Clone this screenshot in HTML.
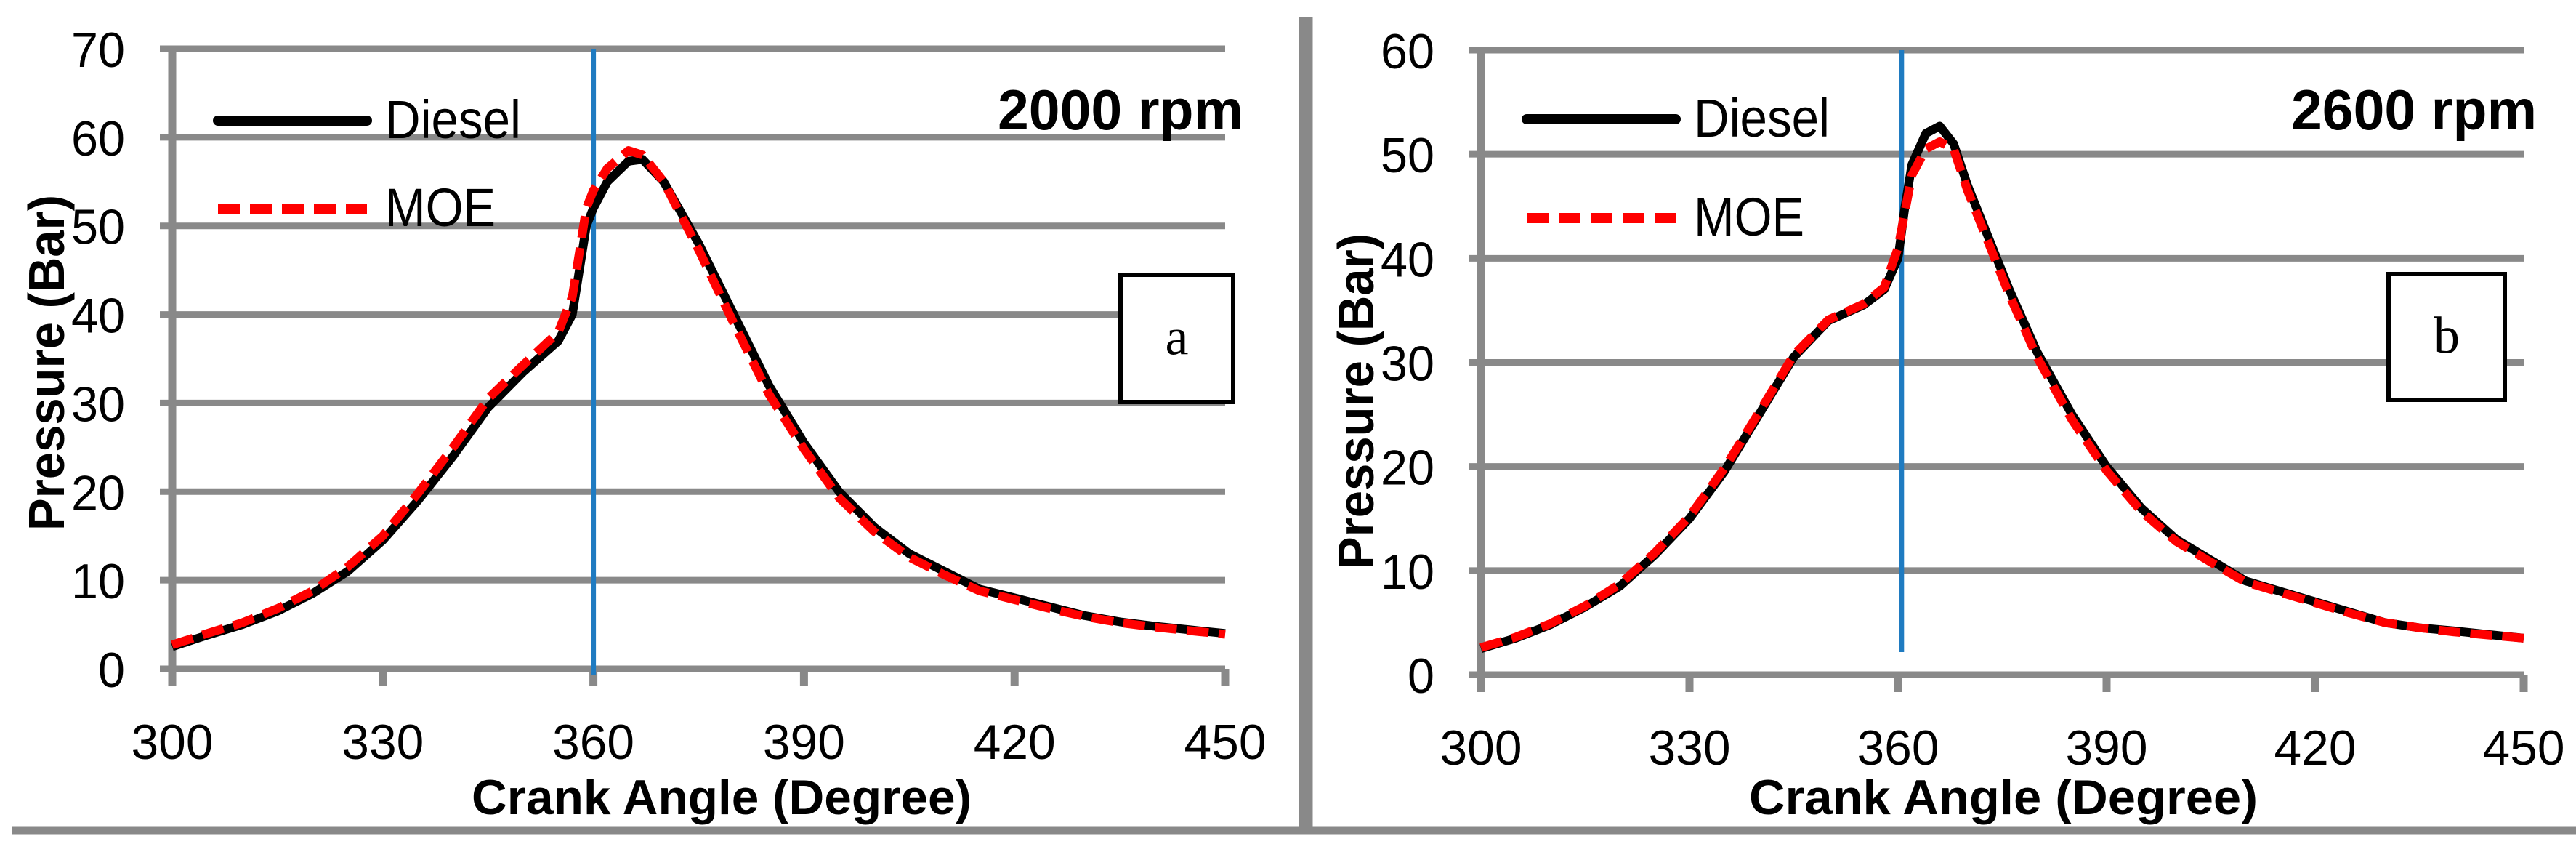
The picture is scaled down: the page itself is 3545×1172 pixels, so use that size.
<!DOCTYPE html>
<html><head><meta charset="utf-8"><style>
html,body{margin:0;padding:0;background:#fff}
svg{display:block}
text{font-family:"Liberation Sans Narrow","Liberation Sans",sans-serif}
</style></head><body>
<svg id="fig" width="3545" height="1172" viewBox="0 0 3545 1172" xmlns="http://www.w3.org/2000/svg">
<rect x="0" y="0" width="3545" height="1172" fill="#fff"/>
<line x1="17" y1="1142" x2="3545" y2="1142" stroke="#898989" stroke-width="11"/>
<line x1="1797" y1="23" x2="1797" y2="1147" stroke="#898989" stroke-width="19"/>
<g id="pa"></g>
<g id="pb"></g>
</svg>
<script>
const xTicks = [300, 330, 360, 390, 420, 450];
const yTicksA = [0, 10, 20, 30, 40, 50, 60, 70];
const yTicksB = [0, 10, 20, 30, 40, 50, 60];
const anglesA = [300,305,310,315,320,325,330,335,340,345,350,355,357,358,359,360,362,365,367,370,375,380,385,390,395,400,405,410,415,420,425,430,435,440,445,450];
const dieselA = [2.5,3.8,5,6.5,8.5,11,14.5,19,24,29.5,33.5,37,40,45,50,52,55,57.3,57.5,55,48,40,32,25.5,20,16,13,11,9,8,7,6,5.3,4.8,4.4,4];
const moeA    = [2.7,4,5.2,6.8,8.8,11.5,15,19.8,25,30.5,34.3,38,42,47,52,54,56.5,58.5,58,55,47.3,39,31,24.8,19.3,15.5,12.6,10.6,8.8,7.8,6.8,5.9,5.2,4.7,4.3,3.9];
const anglesB = [300,305,310,315,320,325,330,335,340,345,350,355,358,360,361,362,364,366,368,370,373,376,380,385,390,395,400,405,410,415,420,425,430,435,440,450];
const dieselB = [2.5,3.5,4.8,6.5,8.5,11.5,15,19.5,25,30.5,34,35.5,37,40,45,49,52,52.7,51,47,42,37,31,25,20,16,13,11,9,8,7,6,5,4.5,4.2,3.5];
const moeB    = [2.6,3.6,4.9,6.6,8.7,11.7,15.2,19.8,25.2,30.7,34.1,35.6,37.2,41,44.5,48,50.5,51.2,50.5,46.5,41.5,36.5,30.5,24.5,19.6,15.7,12.8,10.8,8.9,7.9,6.9,5.9,5,4.5,4.1,3.5];
const NS = "http://www.w3.org/2000/svg";
function mk(parent, tag, attrs, text){
  const el = document.createElementNS(NS, tag);
  for (const k in attrs) el.setAttribute(k, attrs[k]);
  if (text !== undefined) el.textContent = text;
  parent.appendChild(el);
  return el;
}
function numLen(s){ return s.length * 37; }
function panel(g, cfg){
  const sx = v => cfg.x0 + (v - 300) * (cfg.x1 - cfg.x0) / 150;
  const sy = v => cfg.y0 - v * (cfg.y0 - cfg.yTop) / cfg.ymax;
  cfg.yt.forEach(t => {
    const l = mk(g, 'line', {x1: cfg.x0 - 17, x2: cfg.x1, y1: sy(t), y2: sy(t), stroke: '#898989', 'stroke-width': 9});
    
    
    const tx = mk(g, 'text', {x: cfg.ylx, y: sy(t) + 25, 'font-size': 68, 'text-anchor': 'end', textLength: numLen(String(t)), lengthAdjust: 'spacingAndGlyphs'}, String(t));
    
    
  });
  const ax = mk(g, 'line', {x1: cfg.x0, x2: cfg.x0, y1: sy(cfg.ymax) - 4, y2: cfg.y0 + 24, stroke: '#898989', 'stroke-width': 11});
  
  
  xTicks.forEach(t => {
    const l = mk(g, 'line', {x1: sx(t), x2: sx(t), y1: cfg.y0, y2: cfg.y0 + 24, stroke: '#898989', 'stroke-width': 11});
    
    
    const tx = mk(g, 'text', {x: sx(t), y: cfg.xly, 'font-size': 68, 'text-anchor': 'middle', textLength: 113, lengthAdjust: 'spacingAndGlyphs'}, String(t));
    
    
  });
  const blue = mk(g, 'line', {x1: sx(cfg.tdc), x2: sx(cfg.tdc), y1: sy(cfg.ymax), y2: cfg.blueEnd, stroke: '#1f7bc1', 'stroke-width': 7});
  
  
  const d = (xs, ys) => xs.map((a, i) => (i ? 'L' : 'M') + sx(a).toFixed(1) + ' ' + sy(ys[i]).toFixed(1)).join(' ');
  const p1 = mk(g, 'path', {d: d(cfg.ang, cfg.dsl), fill: 'none', stroke: '#000', 'stroke-width': 12, 'stroke-linejoin': 'round'});
  
  
  const p2 = mk(g, 'path', {d: d(cfg.ang, cfg.moe), fill: 'none', stroke: '#ff0000', 'stroke-width': 12, 'stroke-dasharray': '30 14', 'stroke-linejoin': 'round'});
  
  
  const l1 = mk(g, 'line', {x1: cfg.lgx, x2: cfg.lgx + 205, y1: cfg.lgy1, y2: cfg.lgy1, stroke: '#000', 'stroke-width': 14, 'stroke-linecap': 'round'});
  
  
  const t1 = mk(g, 'text', {x: cfg.lgx + 230, y: cfg.lgy1 + 24, 'font-size': 74, textLength: 187, lengthAdjust: 'spacingAndGlyphs'}, 'Diesel');
  
  
  const l2 = mk(g, 'line', {x1: cfg.lgx, x2: cfg.lgx + 205, y1: cfg.lgy2, y2: cfg.lgy2, stroke: '#ff0000', 'stroke-width': 14, 'stroke-dasharray': '30 14'});
  
  
  const t2 = mk(g, 'text', {x: cfg.lgx + 230, y: cfg.lgy2 + 24, 'font-size': 74, textLength: 152, lengthAdjust: 'spacingAndGlyphs'}, 'MOE');
  
  
  const rpm = mk(g, 'text', {x: cfg.rpmx, y: cfg.rpmy, 'font-size': 78, 'font-weight': 'bold', 'text-anchor': 'end', textLength: 338, lengthAdjust: 'spacingAndGlyphs'}, cfg.rpm);
  
  
  const bx = mk(g, 'rect', {x: cfg.box[0], y: cfg.box[1], width: cfg.box[2], height: cfg.box[3], fill: '#fff', stroke: '#000', 'stroke-width': 6});
  
  
  const bt = mk(g, 'text', {x: cfg.box[0] + cfg.box[2] / 2, y: cfg.box[1] + cfg.box[3] / 2 + 22, 'font-size': 72, 'text-anchor': 'middle', style: 'font-family:"Liberation Serif",serif'}, cfg.tag);
  
  
  const yt = mk(g, 'text', {x: 0, y: 0, 'font-size': 70, 'font-weight': 'bold', 'text-anchor': 'middle', textLength: 462, lengthAdjust: 'spacingAndGlyphs', transform: 'translate(' + cfg.ytx + ',' + cfg.yty + ') rotate(-90)', style: 'font-family:"Liberation Sans",sans-serif'}, 'Pressure (Bar)');
  
  
  const xt = mk(g, 'text', {x: cfg.xtx, y: 1120, 'font-size': 68, 'font-weight': 'bold', 'text-anchor': 'middle', textLength: cfg.xtw, lengthAdjust: 'spacingAndGlyphs'}, 'Crank Angle (Degree)');
  
  
}
panel(document.getElementById('pa'), {x0: 237, x1: 1686, y0: 920, yTop: 67, ymax: 70, yt: yTicksA, ylx: 172, xly: 1044,
  tdc: 360, blueEnd: 928, ang: anglesA, dsl: dieselA, moe: moeA, lgx: 300, lgy1: 166, lgy2: 287,
  rpm: '2000 rpm', rpmx: 1711, rpmy: 178, box: [1542, 378, 155, 175], tag: 'a', ytx: 88, yty: 499, xtx: 993, xtw: 688});
panel(document.getElementById('pb'), {x0: 2038, x1: 3473, y0: 928, yTop: 69, ymax: 60, yt: yTicksB, ylx: 1974, xly: 1052,
  tdc: 360.5, blueEnd: 897, ang: anglesB, dsl: dieselB, moe: moeB, lgx: 2101, lgy1: 164, lgy2: 300,
  rpm: '2600 rpm', rpmx: 3491, rpmy: 178, box: [3287, 377, 160, 173], tag: 'b', ytx: 1890, yty: 552, xtx: 2757, xtw: 700});
</script>
</body></html>
